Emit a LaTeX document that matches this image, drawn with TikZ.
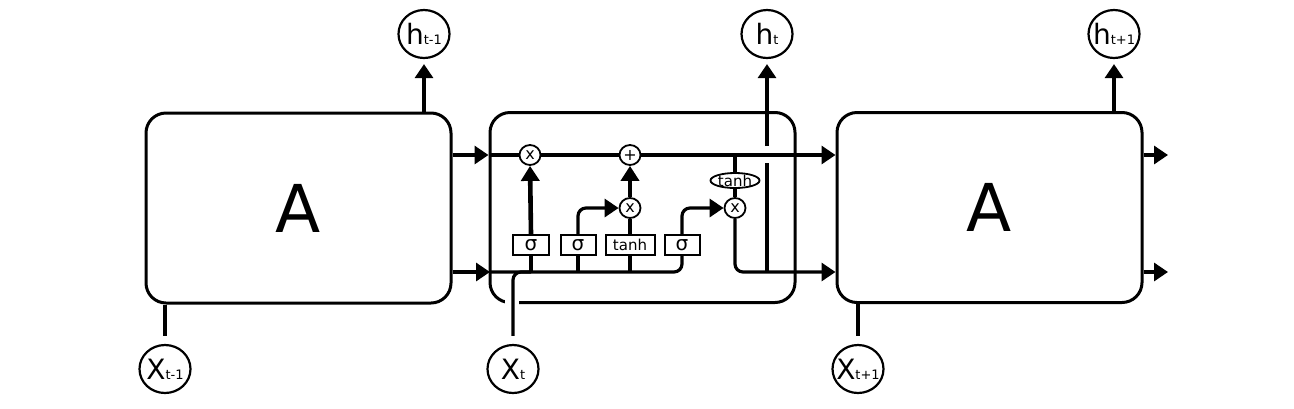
\documentclass[tikz,border=0pt]{standalone}
\usepackage{fontspec}
\setmainfont{DejaVu Sans}
\usetikzlibrary{arrows.meta,shapes.geometric,calc}
\newcommand\iolbl[2]{{\fontsize{14}{14}\selectfont #1}{\fontsize{6.5}{6.5}\selectfont #2}}
\begin{document}
\begin{tikzpicture}[x=0.5pt,y=-0.5pt,
  cellbox/.style={draw, line width=1.5pt, rounded corners=10pt, minimum width=152.5pt, minimum height=95pt, inner sep=0pt, font=\fontsize{33}{33}\selectfont},
  io/.style={draw, ellipse, line width=1.1pt, minimum width=25.5pt, minimum height=24pt, inner sep=-3pt},
  op/.style={draw, ellipse, line width=0.9pt, minimum width=10.5pt, minimum height=10pt, inner sep=0pt, font=\fontsize{8}{8}\selectfont},
  gate/.style={draw, rectangle, line width=1pt, minimum height=10pt, inner sep=0pt, font=\fontsize{10}{10}\selectfont},
  tanhov/.style={draw, ellipse, line width=0.9pt, minimum width=24.5pt, minimum height=7.5pt, inner sep=-1pt, font=\fontsize{7.5}{7.5}\selectfont},
  conn/.style={line width=1.6pt},
  arr/.style={conn, -{Triangle[length=7pt,width=9pt]}},
  thickarr/.style={line width=2.3pt, -{Triangle[length=7.5pt,width=9pt]}},
  rbend/.style={rounded corners=4pt}
]
\useasboundingbox (0,0) rectangle (1294,408);

% cells
\node[cellbox] (A1) at (298.5,208) {A};
\node[cellbox] (M) at (642.5,207.5) {};
\node[cellbox] (A3) at (989.5,207.5) {A};

% inputs / outputs
\node[io] (h1) at (424,34) {\iolbl{h}{t-1}};
\node[io] (ht) at (767,34) {\iolbl{h}{t}};
\node[io] (h3) at (1114,34) {\iolbl{h}{t+1}};
\node[io] (x1) at (165,369) {\iolbl{X}{t-1}};
\node[io] (xt) at (513,369) {\iolbl{X}{t}};
\node[io] (x3) at (858,369) {\iolbl{X}{t+1}};

% pointwise ops
\node[op] (fx) at (530,155) {x};
\node[op] (plus) at (630,155) {+};
\node[op] (ix) at (630,208) {x};
\node[op] (ox) at (735,208) {x};
\node[tanhov] (th) at (735,180.5) {tanh};

% gates
\node[gate, minimum width=18pt] (s1) at (531,245) {σ};
\node[gate, minimum width=17.5pt] (s2) at (578,245) {σ};
\node[gate, minimum width=24.5pt, font=\fontsize{7.5}{7.5}\selectfont] (tg) at (630,245) {tanh};
\node[gate, minimum width=17.5pt] (s3) at (682,245) {σ};

% named coordinates
\coordinate (hin) at (490,272);
\coordinate (o1) at (1168,155);
\coordinate (o2) at (1168,272);
\coordinate (gapT) at ($(ht |- fx)+(0,-9)$);
\coordinate (gapB) at ($(ht |- fx)+(0,8)$);

% left cell outputs
\draw[arr, shorten >=2.5pt] (A1.north -| h1) -- (h1.south);
\draw[conn, shorten <=4pt] (x1.north) -- (x1.north |- A1.south);
\draw[arr] (A1.east |- fx) -- (M.west |- fx);
\draw[arr] (A1.east |- hin) -- (hin);

% cell state line
\draw[conn] (M.west |- fx) -- (fx.west);
\draw[conn] (fx.east) -- (plus.west);
\draw[arr] (plus.east) -- (A3.west |- fx);

% hidden input line
\draw[white, line width=3pt] (505,302) -- (519,302);
\draw[conn, rbend, shorten <=4pt] (xt.north) |- (s1.south |- hin);
\draw[conn, rbend] (hin) -| (s3.south);
\draw[conn] (s1.south |- hin) -- (s1.south);
\draw[conn] (s2.south |- hin) -- (s2.south);
\draw[conn] (tg.south |- hin) -- (tg.south);

% gates up
\draw[thickarr] (s1.north) -- (fx.south);
\draw[arr, rbend] (s2.north) |- (ix.west);
\draw[conn] (tg.north) -- (ix.south);
\draw[thickarr] (ix.north) -- (plus.south);
\draw[arr, rbend] (s3.north) |- (ox.west);

% output branch
\draw[conn] (ox.north |- fx) -- (th.north);
\draw[conn] (th.south) -- (ox.north);
\draw[arr, rbend] (ox.south) |- (A3.west |- hin);
\draw[conn] (ht |- hin) -- (gapB);
\draw[arr, shorten >=2.5pt] (gapT) -- (ht.south);

% right cell
\draw[arr, shorten >=2.5pt] (A3.north -| h3) -- (h3.south);
\draw[conn, shorten <=4pt] (x3.north) -- (x3.north |- A3.south);
\draw[arr] (A3.east |- fx) -- (o1);
\draw[arr] (A3.east |- hin) -- (o2);
\end{tikzpicture}
\end{document}
